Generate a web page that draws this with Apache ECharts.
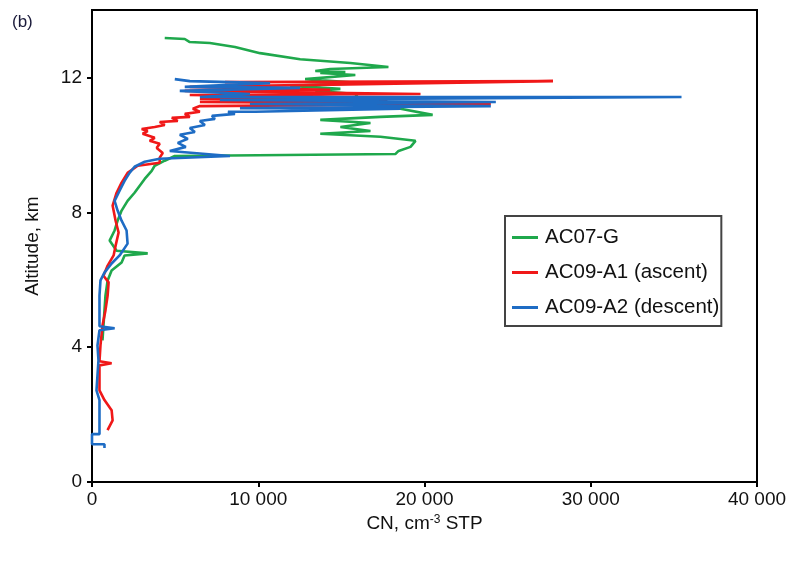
<!DOCTYPE html>
<html>
<head>
<meta charset="utf-8">
<script src="https://cdn.jsdelivr.net/npm/echarts@6/dist/echarts.min.js"></script>
<style>
  html, body { margin: 0; padding: 0; background: #fff; }
  #box { width: 807px; height: 561px; }
</style>
</head>
<body>
<div id="box"></div>
<script>
// 坐标轴刻度
var xTicks = [0, 10000, 20000, 30000, 40000];
var yTicks = [0, 4, 8, 12];

// 各系列名称
var seriesNames = ['AC07-G', 'AC09-A1 (ascent)', 'AC09-A2 (descent)'];

// AC07-G  [CN, 高度km]
var ac07g = [
  [4375, 13.17], [5580, 13.14], [5880, 13.05], [7090, 13.02], [8600, 12.90],
  [10110, 12.72], [12520, 12.54], [15540, 12.43], [17830, 12.31], [14330, 12.25],
  [13430, 12.19], [15240, 12.16], [13730, 12.13], [15840, 12.07], [12820, 11.95],
  [16140, 11.83], [11920, 11.75], [14940, 11.66], [13430, 11.60], [15840, 11.51],
  [16140, 11.30], [18560, 11.07], [20490, 10.89], [17350, 10.83], [13730, 10.74],
  [16750, 10.65], [14940, 10.53], [16750, 10.41], [13730, 10.33], [17350, 10.24],
  [19460, 10.12], [19160, 9.94], [18440, 9.82], [18260, 9.73], [4980, 9.67],
  [4375, 9.53], [3770, 9.38], [3590, 9.23], [3170, 8.99], [2870, 8.79],
  [2560, 8.58], [2140, 8.34], [1780, 8.05], [1540, 7.75], [1360, 7.46],
  [1060, 7.16], [1480, 6.86], [3350, 6.78], [1960, 6.72], [1780, 6.51],
  [1180, 6.27], [940, 5.98], [810, 5.53], [750, 5.09], [690, 4.64], [630, 4.20]
];

// AC09-A1 上升段
var ac09a1 = [
  [935, 1.54], [1240, 1.83], [1180, 2.13], [750, 2.43], [450, 2.72],
  [450, 3.17], [450, 3.46], [1180, 3.52], [450, 3.58], [510, 4.05],
  [630, 4.64], [810, 5.09], [940, 5.53], [1000, 5.92], [690, 6.12],
  [940, 6.42], [1300, 6.72], [1420, 7.01], [1600, 7.40], [1420, 7.75],
  [1240, 8.20], [1480, 8.58], [1780, 8.88], [2140, 9.17], [2750, 9.38],
  [4070, 9.47], [4074, 9.62], [4255, 9.76], [3893, 9.91], [4074, 10.03],
  [3470, 10.12], [3772, 10.21], [3048, 10.33], [3349, 10.41], [2987, 10.47],
  [3772, 10.53], [4375, 10.59], [4074, 10.68], [5160, 10.71], [4798, 10.80],
  [5884, 10.83], [5582, 10.92], [6487, 10.98], [6065, 11.07], [6487, 11.15],
  [23990, 11.21], [6490, 11.27], [17770, 11.30], [6490, 11.36],
  [17770, 11.39], [5880, 11.48], [19760, 11.51], [5580, 11.60], [14330, 11.63],
  [5880, 11.72], [27730, 11.89], [8000, 11.86]
];

// AC09-A2 下降段
var ac09a2 = [
  [4980, 11.95], [5880, 11.89], [10710, 11.83], [5580, 11.72], [12520, 11.69],
  [5280, 11.60], [9500, 11.51], [6490, 11.42], [35460, 11.42], [7690, 11.33],
  [24290, 11.27], [9500, 11.21], [23990, 11.15], [8900, 11.09], [18560, 11.07],
  [9807, 10.98], [8177, 10.98], [8600, 10.92], [7212, 10.86], [7393, 10.77],
  [6487, 10.71], [6789, 10.59], [5884, 10.50], [6186, 10.38], [5281, 10.30],
  [5763, 10.18], [5160, 10.06], [5643, 9.94], [4677, 9.82], [8300, 9.67],
  [4070, 9.59], [3170, 9.50], [2560, 9.35], [2260, 9.17], [1960, 8.93],
  [1660, 8.64], [1360, 8.34], [1540, 8.05], [1780, 7.75], [2080, 7.46],
  [2140, 7.07], [1660, 6.72], [1180, 6.48], [750, 6.21], [510, 5.98],
  [450, 5.53], [450, 4.94], [450, 4.62], [1360, 4.56], [450, 4.50],
  [330, 4.05], [390, 3.61], [330, 3.17], [270, 2.72], [450, 2.43],
  [450, 1.42], [0, 1.42], [0, 1.12], [750, 1.12], [750, 1.01]
];

var colors = ['#1fa84c', '#f01818', '#1e6cc4'];
var font = 'Liberation Sans, Arial, sans-serif';

var myChart = echarts.init(document.getElementById('box'), null, { renderer: 'canvas' });

function makeLine(name, data, color) {
  return {
    name: name,
    type: 'line',
    data: data,
    showSymbol: false,
    symbol: 'none',
    color: color,
    lineStyle: { color: color, width: 2.6 },
    emphasis: { disabled: true }
  };
}

var option = {
  animation: false,
  backgroundColor: '#fff',
  title: {
    text: '(b)',
    left: 7,
    top: 9,
    textStyle: { fontFamily: font, fontSize: 17, fontWeight: 'normal', color: '#1a1a3a' }
  },
  legend: {
    orient: 'vertical',
    left: 505,
    top: 216,
    padding: [11, 2, 8, 7],
    itemGap: 14,
    itemWidth: 26,
    itemHeight: 3,
    icon: 'rect',
    backgroundColor: '#fff',
    borderColor: '#444',
    borderWidth: 2,
    borderRadius: 0,
    textStyle: { fontFamily: font, fontSize: 20.5, color: '#111', padding: [0, 0, 0, 2] },
    data: seriesNames
  },
  grid: {
    left: 92,
    right: 50,
    top: 10,
    bottom: 79,
    show: true,
    borderColor: '#000',
    borderWidth: 2,
    containLabel: false
  },
  xAxis: {
    type: 'value',
    min: 0,
    max: 40000,
    interval: 10000,
    name: 'CN, cm{sup|-3} STP',
    nameLocation: 'middle',
    nameGap: 30,
    nameTextStyle: {
      fontFamily: font, fontSize: 19, color: '#111',
      rich: { sup: { fontFamily: font, fontSize: 12, color: '#111', verticalAlign: 'top', padding: [0, 0, 8, 0] } }
    },
    axisLine: { show: true, onZero: false, lineStyle: { color: '#000', width: 2 } },
    axisTick: { show: true, inside: false, length: 5, lineStyle: { color: '#000', width: 2 } },
    axisLabel: {
      margin: 8,
      fontFamily: font, fontSize: 19, color: '#111',
      formatter: function (v) { return v === 0 ? '0' : (v / 1000) + ' 000'; }
    },
    splitLine: { show: false }
  },
  yAxis: {
    type: 'value',
    min: 0,
    max: 14,
    interval: 4,
    name: 'Altitude, km',
    nameLocation: 'middle',
    nameGap: 50,
    nameTextStyle: { fontFamily: font, fontSize: 19, color: '#111' },
    axisLine: { show: true, onZero: false, lineStyle: { color: '#000', width: 2 } },
    axisTick: { show: true, inside: false, length: 5, lineStyle: { color: '#000', width: 2 }, customValues: yTicks },
    axisLabel: { margin: 10, fontFamily: font, fontSize: 19, color: '#111', customValues: yTicks },
    splitLine: { show: false }
  },
  series: [
    makeLine(seriesNames[0], ac07g, colors[0]),
    makeLine(seriesNames[1], ac09a1, colors[1]),
    makeLine(seriesNames[2], ac09a2, colors[2])
  ]
};

myChart.setOption(option);
</script>
</body>
</html>
